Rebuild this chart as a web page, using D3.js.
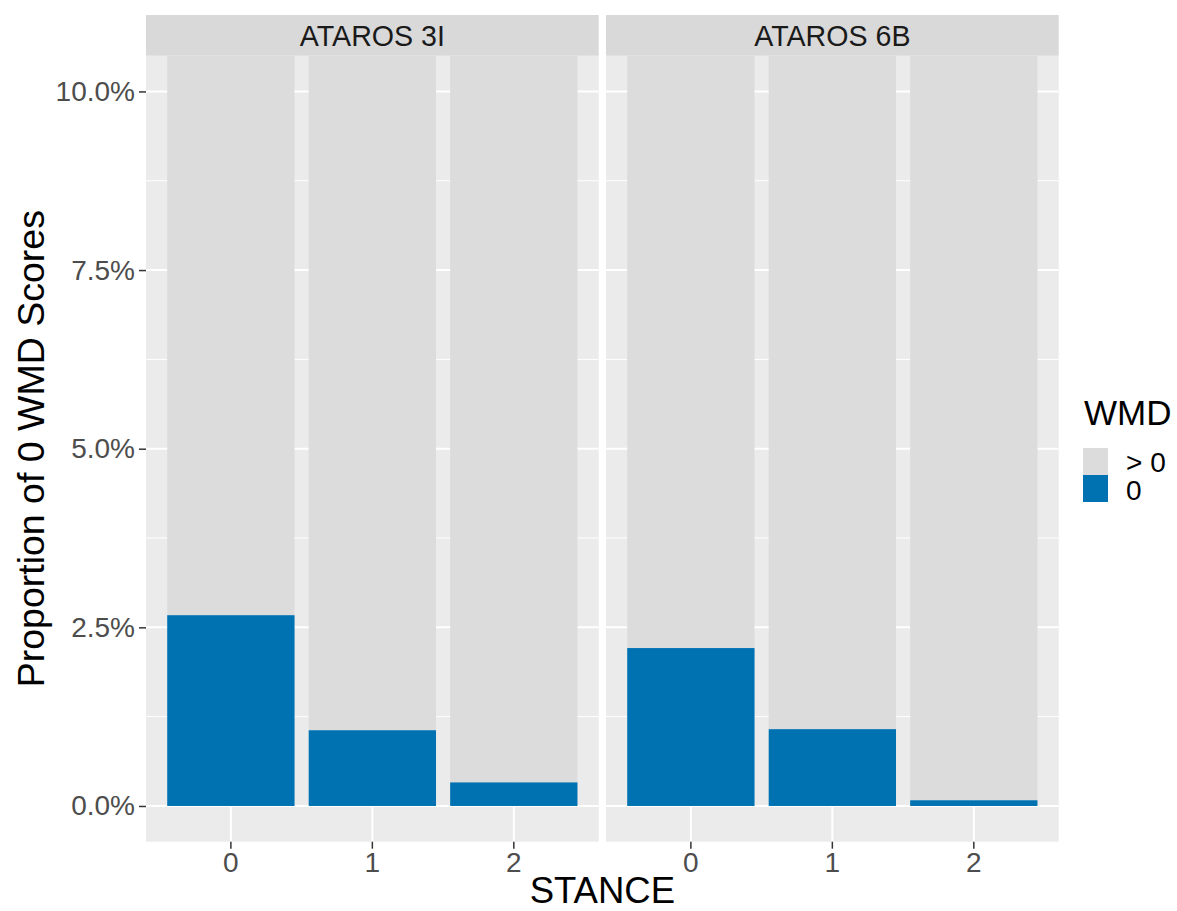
<!DOCTYPE html>
<html>
<head>
<meta charset="utf-8">
<script src="https://cdn.jsdelivr.net/npm/d3@7"></script>
<style>
  html, body { margin: 0; padding: 0; background: #ffffff; }
  svg text { font-family: "Liberation Sans", Arial, Helvetica, sans-serif; }
</style>
</head>
<body>
<svg id="chart" width="1177" height="911"></svg>
<script>
// Facets (corpus) and x categories (stance)
const facets = ["ATAROS 3I", "ATAROS 6B"];
const stances = ["0", "1", "2"];
// Proportion of WMD scores equal to 0, per facet, per stance
const zeroShare3I = [0.0267, 0.0106, 0.0033];
const zeroShare6B = [0.0221, 0.01075, 0.0008];
const zeroShares = [zeroShare3I, zeroShare6B];
// Legend entries
const legendLabels = ["> 0", "0"];
const legendColors = ["#DCDCDC", "#0072B2"];
// Y axis
const yTicks = [0, 0.025, 0.05, 0.075, 0.1];
const yMinor = [0.0125, 0.0375, 0.0625, 0.0875];

const svg = d3.select("#chart");

const panelTop = 55.7, panelBottom = 841.7;
const stripTop = 15;
const panelX = [[146, 598.7], [606, 1058.7]];

const y = d3.scaleLinear().domain([-0.005, 0.105]).range([panelBottom, panelTop]);

facets.forEach((name, fi) => {
  const [x0, x1] = panelX[fi];
  const x = d3.scaleBand().domain(stances).range([x0, x1]).paddingInner(0.1).paddingOuter(0.15);

  // panel background
  svg.append("rect").attr("x", x0).attr("y", panelTop).attr("width", x1 - x0)
    .attr("height", panelBottom - panelTop).attr("fill", "#EBEBEB");

  const clipId = "clip" + fi;
  svg.append("clipPath").attr("id", clipId).append("rect")
    .attr("x", x0).attr("y", panelTop).attr("width", x1 - x0).attr("height", panelBottom - panelTop);

  const g = svg.append("g").attr("clip-path", `url(#${clipId})`);

  // grid lines
  g.selectAll(".minor").data(yMinor).enter().append("line")
    .attr("x1", x0).attr("x2", x1).attr("y1", d => y(d)).attr("y2", d => y(d))
    .attr("stroke", "#ffffff").attr("stroke-width", 1);
  g.selectAll(".major").data(yTicks).enter().append("line")
    .attr("x1", x0).attr("x2", x1).attr("y1", d => y(d)).attr("y2", d => y(d))
    .attr("stroke", "#ffffff").attr("stroke-width", 2);
  g.selectAll(".vmajor").data(stances).enter().append("line")
    .attr("x1", d => x(d) + x.bandwidth() / 2).attr("x2", d => x(d) + x.bandwidth() / 2)
    .attr("y1", panelTop).attr("y2", panelBottom)
    .attr("stroke", "#ffffff").attr("stroke-width", 2);

  // stacked bars: 0 at the bottom, > 0 filling up to 100%
  const vals = zeroShares[fi];
  g.selectAll(".rest").data(stances).enter().append("rect")
    .attr("x", d => x(d)).attr("width", x.bandwidth())
    .attr("y", y(1)).attr("height", (d, i) => y(vals[i]) - y(1))
    .attr("fill", legendColors[0]);
  g.selectAll(".zero").data(stances).enter().append("rect")
    .attr("x", d => x(d)).attr("width", x.bandwidth())
    .attr("y", (d, i) => y(vals[i])).attr("height", (d, i) => y(0) - y(vals[i]))
    .attr("fill", legendColors[1]);

  // strip
  svg.append("rect").attr("x", x0).attr("y", stripTop).attr("width", x1 - x0)
    .attr("height", panelTop - stripTop).attr("fill", "#D9D9D9");
  svg.append("text").attr("x", (x0 + x1) / 2).attr("y", 45.5)
    .attr("text-anchor", "middle").attr("font-size", 28.6).attr("fill", "#1A1A1A").text(name);

  // x axis
  const xAxis = svg.append("g").attr("transform", `translate(0,${panelBottom})`)
    .call(d3.axisBottom(x).tickSize(7).tickPadding(3.5));
  xAxis.select(".domain").remove();
  xAxis.selectAll("line").attr("stroke", "#333333").attr("stroke-width", 1.5);
  xAxis.selectAll("text").attr("font-size", 28).attr("fill", "#4D4D4D")
    .attr("font-family", "Liberation Sans, Arial, sans-serif");
});

// y axis
const yAxis = svg.append("g").attr("transform", `translate(${panelX[0][0]},0)`)
  .call(d3.axisLeft(y).tickValues(yTicks).tickFormat(d3.format(".1%")).tickSize(7).tickPadding(4));
yAxis.select(".domain").remove();
yAxis.selectAll("line").attr("stroke", "#333333").attr("stroke-width", 1.5);
yAxis.selectAll("text").attr("font-size", 28).attr("fill", "#4D4D4D")
  .attr("font-family", "Liberation Sans, Arial, sans-serif");

// axis titles
svg.append("text").attr("x", (panelX[0][0] + panelX[1][1]) / 2).attr("y", 903)
  .attr("text-anchor", "middle").attr("font-size", 36.5).attr("fill", "#000").text("STANCE");
svg.append("text").attr("transform", `translate(44,${(panelTop + panelBottom) / 2}) rotate(-90)`)
  .attr("text-anchor", "middle").attr("font-size", 37.5).attr("fill", "#000")
  .text("Proportion of 0 WMD Scores");

// legend
svg.append("text").attr("x", 1084).attr("y", 425).attr("font-size", 35).attr("fill", "#000").text("WMD");
const keyY = [448, 475];
legendLabels.forEach((lab, i) => {
  svg.append("rect").attr("x", 1083).attr("y", keyY[i]).attr("width", 25).attr("height", 27)
    .attr("fill", legendColors[i]);
});
svg.append("text").attr("x", 1126).attr("y", 472).attr("font-size", 28).attr("fill", "#000").text(legendLabels[0]);
svg.append("text").attr("x", 1126).attr("y", 500).attr("font-size", 28).attr("fill", "#000").text(legendLabels[1]);
</script>
</body>
</html>
